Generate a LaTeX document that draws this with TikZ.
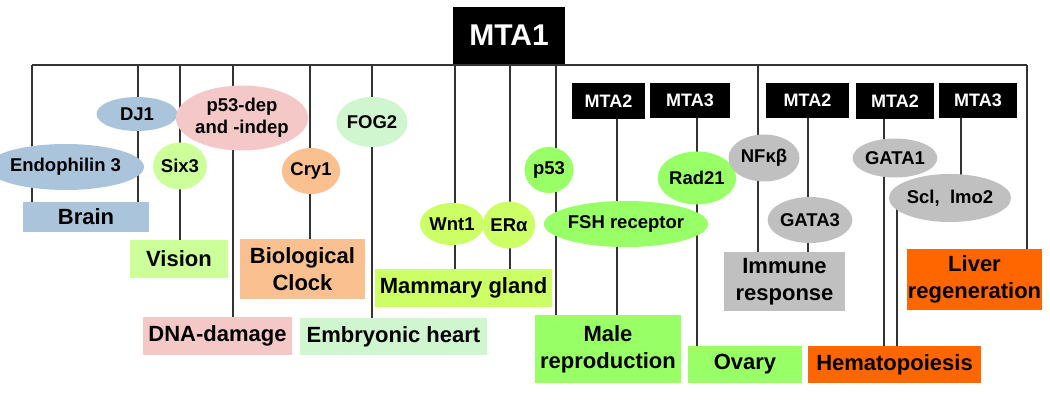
\documentclass[tikz,border=0pt]{standalone}
\usepackage{fontspec}
\setmainfont{Liberation Sans}
\usetikzlibrary{shapes.geometric}
\pgfdeclarelayer{bg}
\pgfsetlayers{bg,main}
\definecolor{cBlue}{RGB}{170,197,219}
\definecolor{cVis}{RGB}{204,255,153}
\definecolor{cPink}{RGB}{245,200,200}
\definecolor{cClock}{RGB}{250,192,144}
\definecolor{cMint}{RGB}{208,246,208}
\definecolor{cYG}{RGB}{204,255,102}
\definecolor{cGreen}{RGB}{153,255,102}
\definecolor{cGray}{RGB}{192,192,192}
\definecolor{cOrange}{RGB}{255,102,0}
\newcommand{\fLbl}{\fontsize{22}{27}\selectfont\bfseries}
\newcommand{\fEll}{\fontsize{18.5}{22}\selectfont\bfseries}
\newcommand{\fMta}{\fontsize{18}{20}\selectfont\bfseries}
\newcommand{\fTop}{\fontsize{30}{32}\selectfont\bfseries}
\begin{document}
\begin{tikzpicture}[x=1pt,y=-1pt,
  conn/.style={draw=black!80, line width=1.1pt},
  lbl/.style={rectangle, inner sep=0pt, font=\fLbl, align=center, text=black},
  ell/.style={ellipse, inner sep=0pt, font=\fEll, align=center, text=black},
  mta/.style={rectangle, inner sep=0pt, fill=black, text=white, font=\fMta}]
\useasboundingbox (0,0) rectangle (1050,401);

% top box
\node[rectangle, inner sep=0pt, fill=black, text=white, font=\fTop, minimum width=112pt, minimum height=57pt] (mta1) at (509,35.5) {MTA1};

% label boxes
\node[lbl, fill=cBlue,   minimum width=126pt, minimum height=30pt] (brain)   at (86,217) {Brain};
\node[lbl, fill=cVis,    minimum width=98pt,  minimum height=38pt] (vision)  at (179,259) {Vision};
\node[lbl, fill=cPink,   minimum width=149pt, minimum height=38pt] (dna)     at (217.5,336) {DNA-damage};
\node[lbl, fill=cClock,  minimum width=125pt, minimum height=60pt] (clock)   at (302.5,269) {Biological\\Clock};
\node[lbl, fill=cMint,   minimum width=187pt, minimum height=37pt] (heart)   at (393.5,336.5) {Embryonic heart};
\node[lbl, fill=cYG,     minimum width=177pt, minimum height=38pt] (mammary) at (463.5,288) {Mammary gland};
\node[lbl, fill=cGreen,  minimum width=146pt, minimum height=68pt] (male)    at (608,349) {Male\\reproduction};
\node[lbl, fill=cGreen,  minimum width=114pt, minimum height=37pt] (ovary)   at (745,364.5) {Ovary};
\node[lbl, fill=cGray,   minimum width=121pt, minimum height=59pt] (immune)  at (784.5,281.5) {Immune\\response};
\node[lbl, fill=cOrange, minimum width=173pt, minimum height=37pt] (hema)    at (894.5,364.5) {Hematopoiesis};
\node[lbl, fill=cOrange, minimum width=135pt, minimum height=61pt] (liver)   at (974.5,279.5) {Liver\\regeneration};

% MTA2/3 boxes
\node[mta, minimum width=73pt, minimum height=36pt] (mta2a) at (608.5,101) {MTA2};
\node[mta, minimum width=80pt, minimum height=35pt] (mta3a) at (690,100.5) {MTA3};
\node[mta, minimum width=83pt, minimum height=35pt] (mta2b) at (807.5,100.5) {MTA2};
\node[mta, minimum width=78pt, minimum height=36pt] (mta2c) at (895,101) {MTA2};
\node[mta, minimum width=78pt, minimum height=35pt] (mta3b) at (978,100.5) {MTA3};

% ellipses
\node[ell, fill=cBlue,  minimum width=131pt, minimum height=46pt] (endo)   at (65.5,167) {Endophilin 3};
\node[ell, fill=cBlue,  minimum width=81pt,  minimum height=34pt] (dj1)    at (137,114) {DJ1};
\node[ell, fill=cVis,   minimum width=49pt,  minimum height=47pt] (six3)   at (180,166) {Six3};
\node[ell, fill=cPink,  minimum width=110pt, minimum height=65pt] (p53dep) at (242,118) {p53-dep\\and -indep};
\node[ell, fill=cClock, minimum width=50pt,  minimum height=46pt] (cry1)   at (311,171) {Cry1};
\node[ell, fill=cMint,  minimum width=71pt,  minimum height=50pt] (fog2)   at (372,122) {FOG2};
\node[ell, fill=cYG,    minimum width=50pt,  minimum height=42pt] (wnt1)   at (452,224) {Wnt1};
\node[ell, fill=cYG,    minimum width=49pt,  minimum height=47pt] (era)    at (509,225) {ERα};
\node[ell, fill=cGreen, minimum width=49pt,  minimum height=46pt] (p53)    at (549,170) {p53};
\node[ell, fill=cGreen, minimum width=132pt, minimum height=46pt] (fsh)    at (626,224) {FSH receptor};
\node[ell, fill=cGreen, minimum width=62pt,  minimum height=53pt] (rad21)  at (697,178) {Rad21};
\node[ell, fill=cGray,  minimum width=71pt,  minimum height=47pt] (nfkb)   at (764,158) {NFκβ};
\node[ell, fill=cGray,  minimum width=73pt,  minimum height=46pt] (gata3)  at (810,220) {GATA3};
\node[ell, fill=cGray,  minimum width=72pt,  minimum height=39pt] (gata1)  at (895,158) {GATA1};
\node[ell, fill=cGray,  minimum width=115pt, minimum height=48pt] (scl)    at (950,198) {Scl,\ \ lmo2};

% bar coordinates
\coordinate (barL) at (32,65);
\coordinate (barR) at (1027,65);
\coordinate (t2) at (138,65);
\coordinate (t3) at (180,65);
\coordinate (t4) at (233,65);
\coordinate (t5) at (310,65);
\coordinate (t6) at (372,65);
\coordinate (t7) at (455,65);
\coordinate (t8) at (510,65);
\coordinate (t9) at (556,65);
\coordinate (t10) at (758,65);
\coordinate (xa) at (617,0);
\coordinate (xb) at (697,0);
\coordinate (xc) at (808,0);
\coordinate (xd) at (884,0);
\coordinate (xe) at (961,0);
\coordinate (xf) at (897,0);

\begin{pgfonlayer}{bg}
\draw[conn] (barL) -- (barR);
\draw[conn] (barL) -- (barL |- brain.north);
\draw[conn] (t2) -- (t2 |- brain.north);
\draw[conn] (t3) -- (t3 |- vision.north);
\draw[conn] (t4) -- (t4 |- dna.north);
\draw[conn] (t5) -- (t5 |- clock.north);
\draw[conn] (t6) -- (t6 |- heart.north);
\draw[conn] (t7) -- (t7 |- mammary.north);
\draw[conn] (t8) -- (t8 |- mammary.north);
\draw[conn] (t9) -- (t9 |- male.north);
\draw[conn] (t10) -- (t10 |- immune.north);
\draw[conn] (barR) -- (barR |- liver.north);
\draw[conn] (xa |- mta2a.south) -- (xa |- male.north);
\draw[conn] (xb |- mta3a.south) -- (xb |- ovary.north);
\draw[conn] (xc |- mta2b.south) -- (xc |- immune.north);
\draw[conn] (xd |- mta2c.south) -- (xd |- hema.north);
\draw[conn] (xe |- mta3b.south) -- (xe |- scl.center);
\draw[conn] (xf |- scl.center) -- (xf |- hema.north);
\end{pgfonlayer}
\end{tikzpicture}
\end{document}
